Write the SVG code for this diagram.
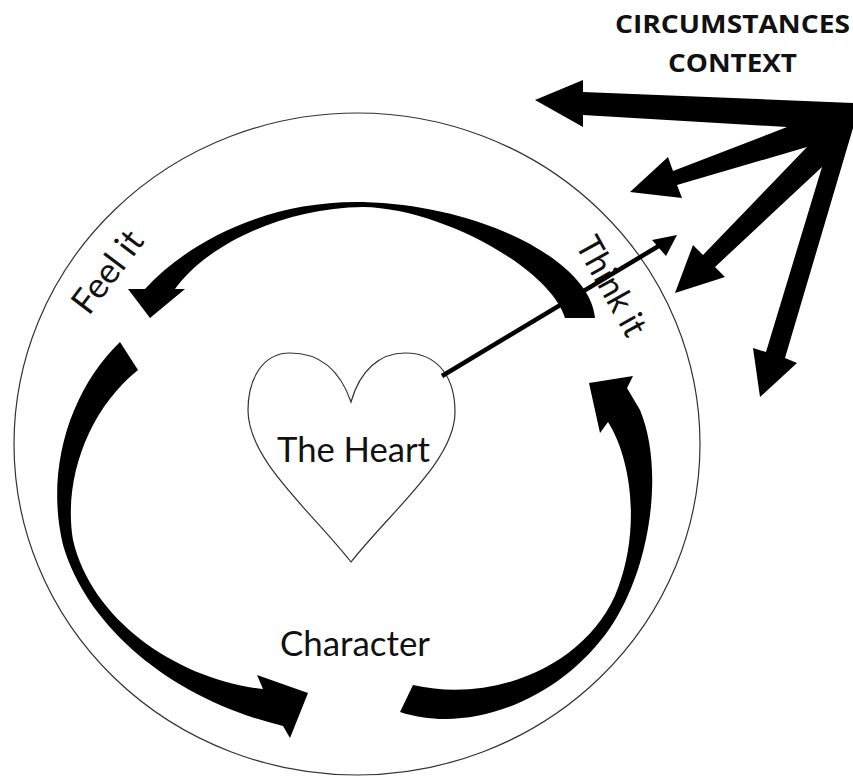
<svg xmlns="http://www.w3.org/2000/svg" width="853" height="778" viewBox="0 0 853 778">
  <style>
    .lbl { font-family: Lato, "Open Sans", "Liberation Sans", sans-serif; fill: #111; }
    .big { font-size: 35px; }
    .cap { font-family: "Open Sans", Lato, "Liberation Sans", sans-serif; font-weight: bold; font-size: 25px; fill: #111; }
    .thick { fill: #000; stroke: none; }
    .outline { fill: none; stroke: #333; stroke-width: 1.2; }
  </style>
  <rect width="853" height="778" fill="#fff"/>

  <g id="outer-circle">
    <ellipse class="outline" cx="357" cy="444" rx="343" ry="331"/>
  </g>

  <g id="heart">
    <path class="outline" d="M351,402 C340,370 320,353 290,353 C262,353 248,380 248,410 C248,460 310,510 351,562 C392,510 455,460 455,412 C455,380 440,353 405,353 C380,353 360,370 351,402 Z"/>
    <text class="lbl big" x="277" y="462" textLength="153" lengthAdjust="spacingAndGlyphs">The Heart</text>
  </g>

  <g id="character">
    <text class="lbl big" x="280" y="656" textLength="150" lengthAdjust="spacingAndGlyphs">Character</text>
  </g>

  <g id="feel-it">
    <text class="lbl big" text-anchor="middle" transform="translate(117,279) rotate(-53)" textLength="94" lengthAdjust="spacingAndGlyphs">Feel it</text>
  </g>

  <g id="think-it">
    <text class="lbl big" text-anchor="middle" transform="translate(601,292) rotate(61)" textLength="108" lengthAdjust="spacingAndGlyphs">Think it</text>
  </g>

  <g id="circumstances">
    <text class="cap" x="615" y="33" textLength="235" lengthAdjust="spacingAndGlyphs">CIRCUMSTANCES</text>
    <text class="cap" x="668" y="72" textLength="129" lengthAdjust="spacingAndGlyphs">CONTEXT</text>
  </g>

  <g id="connectors">
    <!-- Think it -> Feel it -->
    <path class="thick" d="M595,318 C590,260 480,205 363,202 C270,200 190,240 145,289 L128,289 L150,318 L185,289 L175,289 C205,247 280,208 363,207 C440,208 550,268 565,318 Z"/>
    <!-- Feel it -> Character -->
    <path class="thick" d="M120,342 C70,390 45,470 63,545 C88,630 175,700 283,726 L290,738 L308,693 L257,675 L263,689 C180,680 92,622 73,540 C63,480 88,410 138,370 Z"/>
    <!-- Character -> Think it -->
    <path class="thick" d="M400,712 C470,735 560,700 610,628 C650,570 665,470 640,410 L627,388 L633,376 L589,383 L600,433 L608,422 C632,460 640,530 618,588 C592,660 500,705 413,685 Z"/>
    <!-- Heart -> outside -->
    <line x1="442" y1="376" x2="662" y2="244" stroke="#000" stroke-width="4.5"/>
    <polygon class="thick" points="677,235 652,240 666,256"/>
    <!-- Circumstances / context rays -->
    <path class="thick" d="M853,103 L583,92 L583,80 L535,100 L583,127 L583,115 L787,127 L673,171 L668,157 L630,192 L682,198 L677,185 L807,147 L703,255 L693,245 L675,293 L725,277 L715,267 L822,167 L766,352 L753,348 L760,397 L797,363 L785,358 L853,128 Z"/>
  </g>
</svg>
